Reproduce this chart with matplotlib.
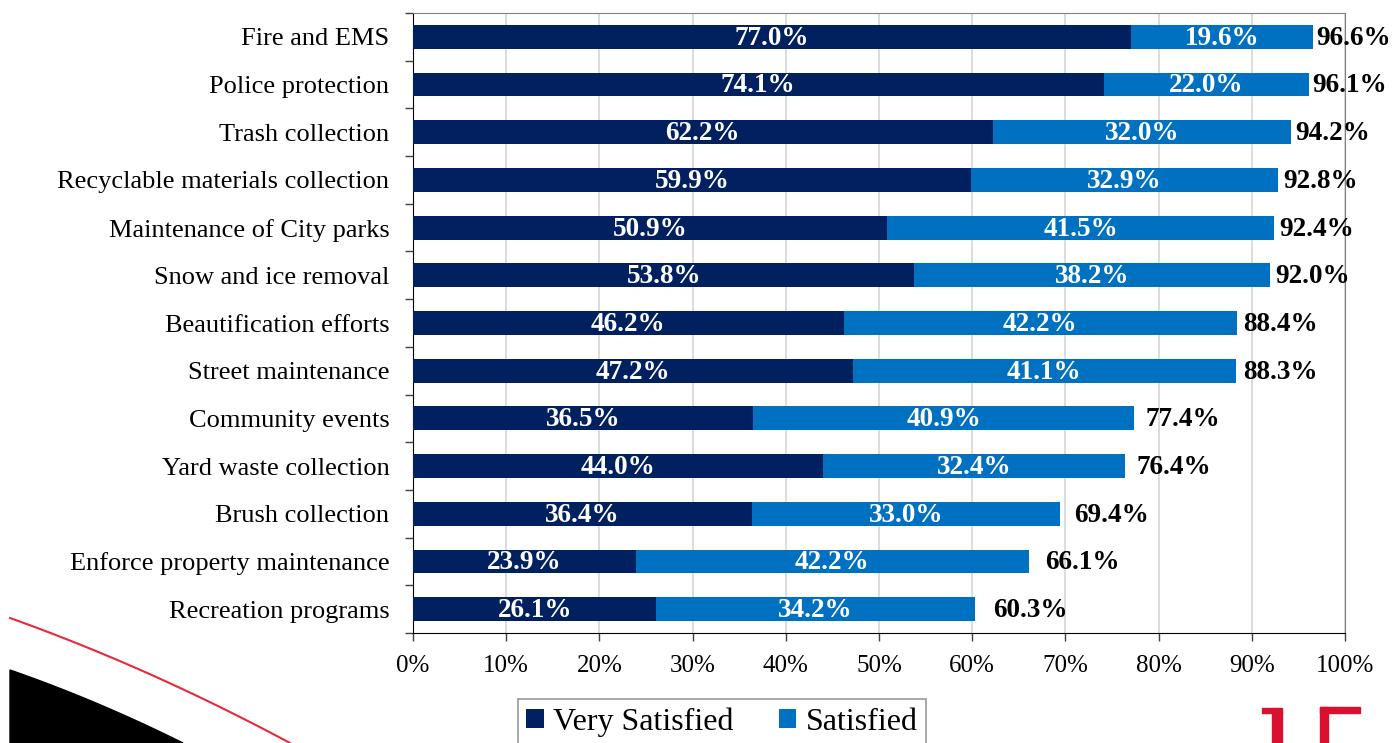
import numpy as np
import matplotlib
matplotlib.use('Agg')
import matplotlib.pyplot as plt
from matplotlib.patches import Polygon, Rectangle


# chart data
categories = ['Fire and EMS', 'Police protection', 'Trash collection',
              'Recyclable materials collection', 'Maintenance of City parks',
              'Snow and ice removal', 'Beautification efforts', 'Street maintenance',
              'Community events', 'Yard waste collection', 'Brush collection',
              'Enforce property maintenance', 'Recreation programs']
very_satisfied = [77.0, 74.1, 62.2, 59.9, 50.9, 53.8, 46.2, 47.2, 36.5, 44.0, 36.4, 23.9, 26.1]
satisfied = [19.6, 22.0, 32.0, 32.9, 41.5, 38.2, 42.2, 41.1, 40.9, 32.4, 33.0, 42.2, 34.2]
totals = [96.6, 96.1, 94.2, 92.8, 92.4, 92.0, 88.4, 88.3, 77.4, 76.4, 69.4, 66.1, 60.3]

dark = '#002060'
blue = '#0070C0'

plt.rcParams['font.family'] = ['Liberation Serif', 'DejaVu Serif']

fig = plt.figure(figsize=(13.93, 7.43), dpi=100)
ax = fig.add_axes([413/1393, 1-633/743, (1345-413)/1393, (633-13)/743])

y = np.arange(len(categories))
b1 = ax.barh(y, very_satisfied, height=0.5, color=dark, label='Very Satisfied', zorder=3)
b2 = ax.barh(y, satisfied, left=very_satisfied, height=0.5, color=blue, label='Satisfied', zorder=3)

for i in range(len(categories)):
    ax.text(very_satisfied[i]/2, y[i] + 0.03, '%.1f%%' % very_satisfied[i], ha='center', va='center',
            color='white', fontweight='bold', fontsize=19.5, zorder=4)
    ax.text(very_satisfied[i] + satisfied[i]/2, y[i] + 0.03, '%.1f%%' % satisfied[i], ha='center',
            va='center', color='white', fontweight='bold', fontsize=19.5, zorder=4)
    # total label sits a bit further out for shorter bars
    off = (100 - totals[i]) * 0.045 + 0.2
    ax.text(totals[i] + off, y[i] + 0.03, '%.1f%%' % totals[i], ha='left', va='center',
            color='black', fontweight='bold', fontsize=19.5, zorder=5, clip_on=False)

ax.set_xlim(0, 100)
ax.set_ylim(len(categories) - 0.5, -0.5)
ax.set_xticks(np.arange(0, 101, 10))
ax.set_xticklabels(['%d%%' % v for v in range(0, 101, 10)], fontsize=18)
ax.set_yticks(y)
ax.set_yticklabels(categories, fontsize=19)
ax.tick_params(axis='y', length=0, pad=17)
ax.set_yticks(np.arange(-0.5, len(categories), 1), minor=True)
ax.tick_params(axis='y', which='minor', length=6, width=1, color='#404040', direction='out')
ax.tick_params(axis='x', length=6, width=1, color='#404040', direction='out', pad=10)
ax.grid(axis='x', color='#d9d9d9', linewidth=1.3, zorder=0)
ax.spines['left'].set_color('black')
ax.spines['bottom'].set_color('black')
ax.spines['top'].set_color('#808080')
ax.spines['right'].set_color('#808080')

leg = fig.legend(handles=[b1, b2], loc='center', bbox_to_anchor=(722/1393, 1-722/743),
                 ncol=2, fontsize=23, frameon=True, fancybox=False, edgecolor='#808080',
                 handlelength=0.55, handleheight=0.55, handletextpad=0.3, columnspacing=1.4,
                 borderpad=0.25, borderaxespad=0)
leg.get_frame().set_linewidth(1.2)

# decorative swoosh lower left
t = np.linspace(0, 1, 50)
rx = (10 + 280*t) / 1393
ry = 1 - (618 + 100*t + 25*t**2) / 743
fig.add_artist(plt.Line2D(rx, ry, color='#e8283c', linewidth=1.5, transform=fig.transFigure))
bx = list((10 + 173*t) / 1393) + [10/1393]
by = list(1 - (670 + 60*t + 13*t**2) / 743) + [0]
fig.add_artist(Polygon(list(zip(bx, by)), closed=True, color='black', transform=fig.transFigure))

# logo fragment lower right
for (x0, y0, w, h) in [(1272, 712, 10, 31), (1262, 708, 20, 5), (1320, 707, 40, 6), (1320, 707, 8, 36)]:
    fig.add_artist(Rectangle((x0/1393, 1-(y0+h)/743), w/1393, h/743, color='#d9102f',
                             transform=fig.transFigure))

fig.savefig('out.png', dpi=100)
